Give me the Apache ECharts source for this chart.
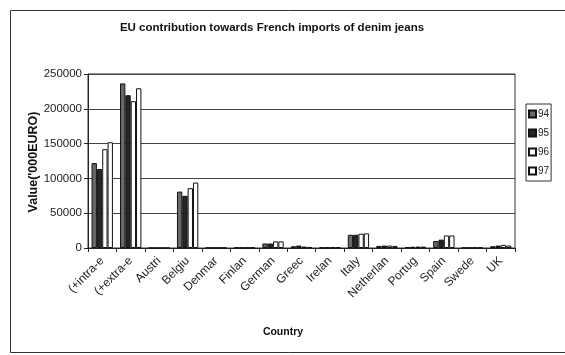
<!DOCTYPE html>
<html>
<head>
<meta charset="utf-8">
<script src="https://cdn.jsdelivr.net/npm/echarts@6/dist/echarts.min.js"></script>
<style>
  html, body { margin: 0; padding: 0; background: #fff; }
  #chart { width: 565px; height: 355px; }
</style>
</head>
<body>
<div id="chart"></div>
<script>
// Category labels as printed under the axis
const countries = ["(+intra-e", "(+extra-e", "Austri", "Belgiu", "Denmar", "Finlan", "German",
  "Greec", "Irelan", "Italy", "Netherlan", "Portug", "Spain", "Swede", "UK"];

// Import values, '000 EURO, one array per year
const years = ["94", "95", "96", "97"];
const v94 = [122000, 236500, 0, 81000, 300, 600, 6500, 2500, 800, 19000, 3000, 1500, 10000, 400, 2500];
const v95 = [113500, 219500, 0, 75000, 300, 500, 6500, 3500, 700, 19000, 3500, 1800, 12000, 400, 3500];
const v96 = [142000, 211000, 0, 86000, 300, 500, 9500, 2000, 900, 20500, 3500, 2000, 18000, 500, 4500];
const v97 = [152000, 229500, 0, 94000, 300, 600, 9500, 1500, 900, 21000, 3000, 2000, 18000, 500, 3500];

const yTicks = [0, 50000, 100000, 150000, 200000, 250000];

const fills = ["#6a6a6a", "#262626", "#ffffff", "#ffffff"];
const seriesValues = [v94, v95, v96, v97];

const FONT = "'Liberation Sans', Arial, sans-serif";

const chart = echarts.init(document.getElementById('chart'), null, { renderer: 'canvas' });

chart.setOption({
  animation: false,
  backgroundColor: '#ffffff',
  grid: {
    left: 88, top: 74, width: 427, height: 174,
    show: true, borderColor: '#333', borderWidth: 1, backgroundColor: 'transparent'
  },
  legend: {
    orient: 'vertical',
    left: 526, top: 104,
    itemWidth: 7, itemHeight: 7, itemGap: 9,
    padding: [5, 2, 5, 2],
    borderColor: '#333', borderWidth: 1,
    icon: 'rect',
    data: years,
    textStyle: { fontFamily: FONT, fontSize: 10, color: '#222', padding: [0, 0, 0, -3] }
  },
  xAxis: {
    type: 'category',
    data: countries,
    axisLine: { show: true, lineStyle: { color: '#222', width: 1 } },
    axisTick: { show: true, length: 4, alignWithLabel: false, lineStyle: { color: '#222' } },
    axisLabel: {
      interval: 0, rotate: 45, margin: 11,
      fontFamily: FONT, fontSize: 12, color: '#222'
    },
    splitLine: { show: false }
  },
  yAxis: {
    type: 'value',
    min: yTicks[0], max: yTicks[yTicks.length - 1], interval: 50000,
    axisLine: { show: true, lineStyle: { color: '#222', width: 1 } },
    axisTick: { show: true, length: 4, inside: false, lineStyle: { color: '#222' } },
    axisLabel: {
      margin: 6, fontFamily: FONT, fontSize: 11.5, color: '#222',
      formatter: (v) => String(v)
    },
    splitLine: { show: true, lineStyle: { color: '#444', width: 1 } }
  },
  series: years.map((y, i) => ({
    name: y,
    type: 'bar',
    data: seriesValues[i],
    barGap: '0%',
    barCategoryGap: '25%',
    itemStyle: { color: fills[i], borderColor: '#111', borderWidth: 1 }
  })),
  graphic: [
    {
      type: 'rect',
      shape: { x: 10.5, y: 10.5, width: 570, height: 342 },
      style: { fill: null, stroke: '#333', lineWidth: 1 },
      silent: true
    },
    {
      type: 'text',
      style: {
        x: 272, y: 28, text: 'EU contribution towards French imports of denim jeans',
        textAlign: 'center', textVerticalAlign: 'middle',
        font: "bold 11.5px " + FONT, fill: '#111'
      }
    },
    {
      type: 'text',
      rotation: Math.PI / 2,
      x: 34, y: 162,
      style: {
        x: 0, y: 0, text: "Value('000EURO)",
        textAlign: 'center', textVerticalAlign: 'middle',
        font: "bold 12.5px " + FONT, fill: '#111'
      }
    },
    {
      type: 'text',
      style: {
        x: 283, y: 332, text: 'Country',
        textAlign: 'center', textVerticalAlign: 'middle',
        font: "bold 10.5px " + FONT, fill: '#111'
      }
    }
  ]
});
</script>
</body>
</html>
